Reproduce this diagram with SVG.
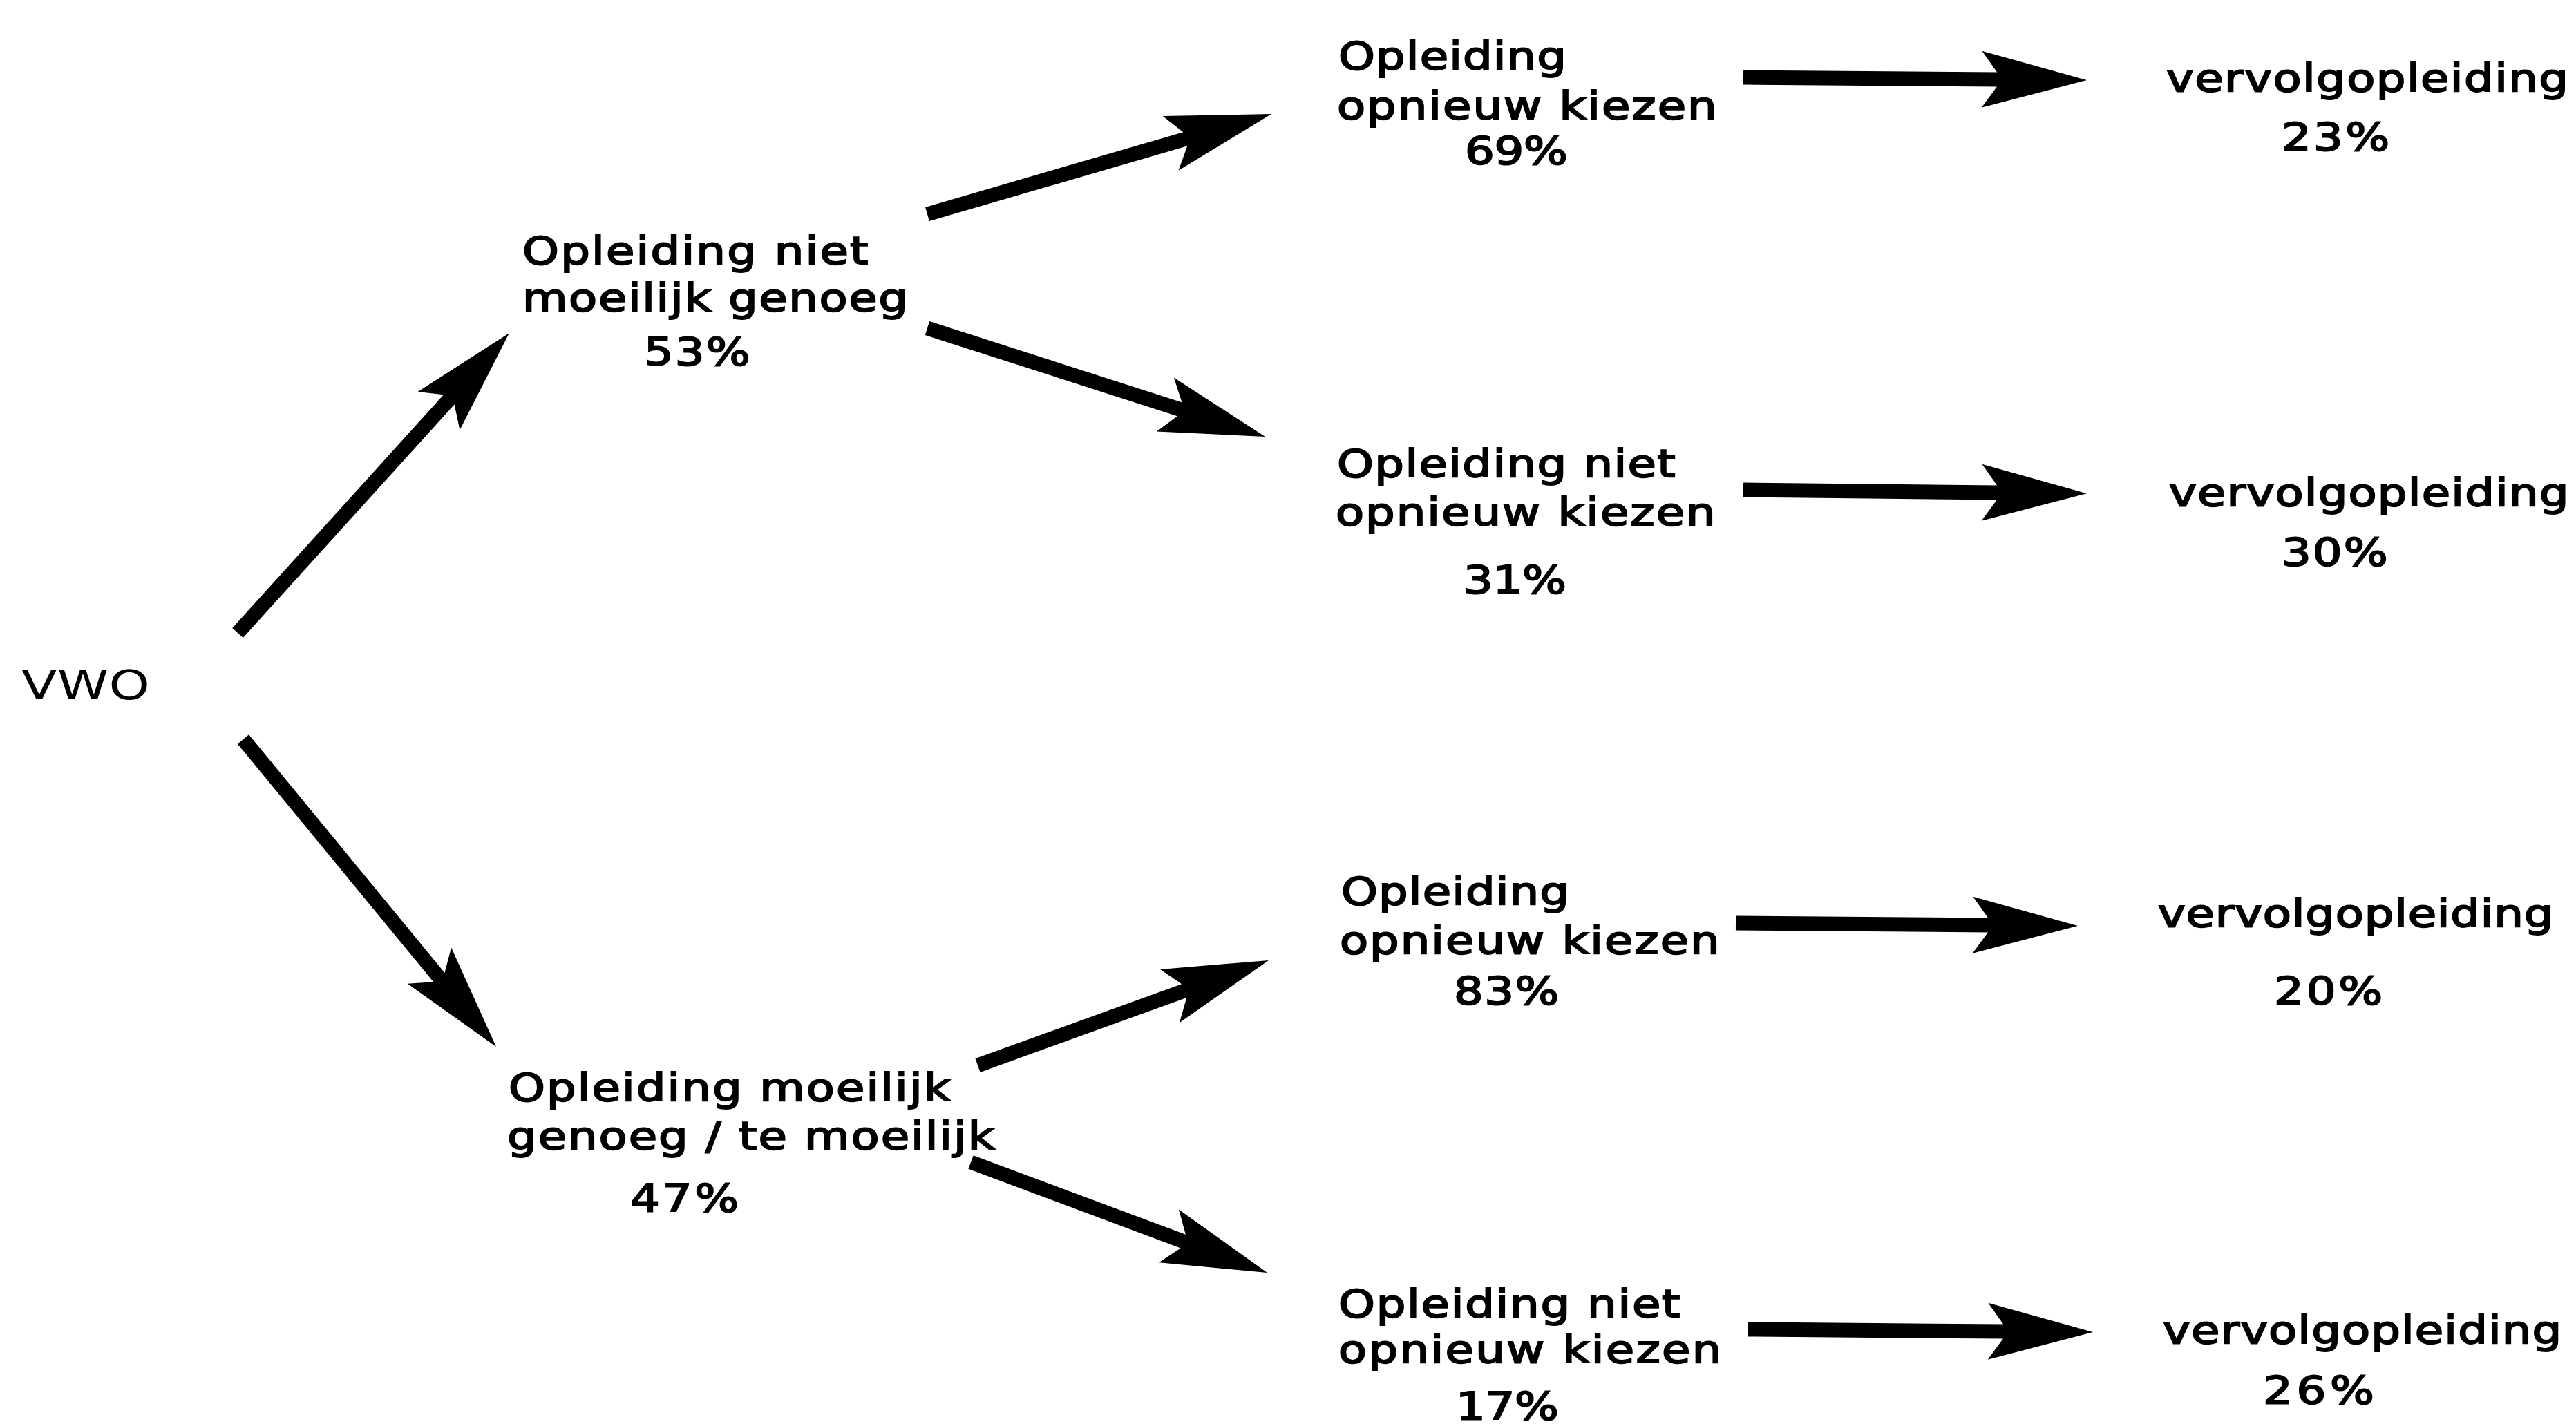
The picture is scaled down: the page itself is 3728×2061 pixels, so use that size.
<svg xmlns="http://www.w3.org/2000/svg" width="3728" height="2061" viewBox="0 0 3728 2061">
<style>
.t { font-family: "DejaVu Sans", "Liberation Sans", sans-serif; font-size: 56px; fill: #000; stroke: #000; stroke-width: 2; }
.v { font-family: "DejaVu Sans", "Liberation Sans", sans-serif; font-size: 58px; fill: #000; }
.c { stroke: #000; stroke-width: 21; fill: none; stroke-linecap: butt; marker-end: url(#ah); }
</style>
<defs>
<marker id="ah" markerUnits="userSpaceOnUse" viewBox="-30 -46 165 92" refX="0" refY="0" markerWidth="165" markerHeight="92" orient="auto" overflow="visible">
<path d="M127,0 L-25,-41 L-3,-10.5 L-3,10.5 L-25,41 Z" fill="#000"/>
</marker>
</defs>
<rect width="3728" height="2061" fill="#fff"/>
<g id="connectors">
<line class="c" x1="344" y1="916" x2="651.8" y2="576.1"/>
<line class="c" x1="352" y1="1070" x2="637.3" y2="1416.9"/>
<line class="c" x1="1342" y1="310" x2="1718.1" y2="200.5"/>
<line class="c" x1="1342" y1="475" x2="1710.1" y2="593.2"/>
<line class="c" x1="1415" y1="1542" x2="1716.5" y2="1433.1"/>
<line class="c" x1="1405" y1="1682" x2="1715" y2="1797.6"/>
<line class="c" x1="2523" y1="112" x2="2893" y2="115"/>
<line class="c" x1="2523" y1="709" x2="2893" y2="713"/>
<line class="c" x1="2512" y1="1336" x2="2880" y2="1339"/>
<line class="c" x1="2530" y1="1924" x2="2902" y2="1927"/>
</g>
<g id="node-vwo">
<text class="v" transform="translate(31,1012) scale(1.3,1)" x="0" y="0" textLength="143" lengthAdjust="spacing">VWO</text>
</g>
<g id="node-niet-moeilijk">
<text class="t" transform="translate(756,382) scale(1.2,1)" textLength="417" lengthAdjust="spacing">Opleiding niet</text>
<text class="t" transform="translate(756,450) scale(1.2,1)" textLength="465" lengthAdjust="spacing">moeilijk genoeg</text>
<text class="t" transform="translate(932,528) scale(1.2,1)" textLength="128" lengthAdjust="spacing">53%</text>
</g>
<g id="node-moeilijk">
<text class="t" transform="translate(736,1593) scale(1.2,1)" textLength="533" lengthAdjust="spacing">Opleiding moeilijk</text>
<text class="t" transform="translate(734,1663) scale(1.2,1)" textLength="588" lengthAdjust="spacing">genoeg / te moeilijk</text>
<text class="t" transform="translate(912,1753) scale(1.2,1)" textLength="131" lengthAdjust="spacing">47%</text>
</g>
<g id="node-opnieuw-1">
<text class="t" transform="translate(1937,100) scale(1.2,1)" textLength="275" lengthAdjust="spacing">Opleiding</text>
<text class="t" transform="translate(1935,172) scale(1.2,1)" textLength="458" lengthAdjust="spacing">opnieuw kiezen</text>
<text class="t" transform="translate(2120,237) scale(1.2,1)" textLength="124" lengthAdjust="spacing">69%</text>
</g>
<g id="node-niet-opnieuw-1">
<text class="t" transform="translate(1935,690) scale(1.2,1)" textLength="408" lengthAdjust="spacing">Opleiding niet</text>
<text class="t" transform="translate(1933,760) scale(1.2,1)" textLength="458" lengthAdjust="spacing">opnieuw kiezen</text>
<text class="t" transform="translate(2118,858) scale(1.2,1)" textLength="124" lengthAdjust="spacing">31%</text>
</g>
<g id="node-opnieuw-2">
<text class="t" transform="translate(1941,1309) scale(1.2,1)" textLength="275" lengthAdjust="spacing">Opleiding</text>
<text class="t" transform="translate(1939,1380) scale(1.2,1)" textLength="458" lengthAdjust="spacing">opnieuw kiezen</text>
<text class="t" transform="translate(2104,1453) scale(1.2,1)" textLength="127" lengthAdjust="spacing">83%</text>
</g>
<g id="node-niet-opnieuw-2">
<text class="t" transform="translate(1937,1906) scale(1.2,1)" textLength="412" lengthAdjust="spacing">Opleiding niet</text>
<text class="t" transform="translate(1937,1972) scale(1.2,1)" textLength="462" lengthAdjust="spacing">opnieuw kiezen</text>
<text class="t" transform="translate(2107,2054) scale(1.2,1)" textLength="124" lengthAdjust="spacing">17%</text>
</g>
<g id="node-vervolg-1">
<text class="t" transform="translate(3135,132) scale(1.2,1)" textLength="485" lengthAdjust="spacing">vervolgopleiding</text>
<text class="t" transform="translate(3302,217) scale(1.2,1)" textLength="130" lengthAdjust="spacing">23%</text>
</g>
<g id="node-vervolg-2">
<text class="t" transform="translate(3139,732) scale(1.2,1)" textLength="482" lengthAdjust="spacing">vervolgopleiding</text>
<text class="t" transform="translate(3302,818) scale(1.2,1)" textLength="128" lengthAdjust="spacing">30%</text>
</g>
<g id="node-vervolg-3">
<text class="t" transform="translate(3123,1341) scale(1.2,1)" textLength="477" lengthAdjust="spacing">vervolgopleiding</text>
<text class="t" transform="translate(3291,1453) scale(1.2,1)" textLength="131" lengthAdjust="spacing">20%</text>
</g>
<g id="node-vervolg-4">
<text class="t" transform="translate(3130,1944) scale(1.2,1)" textLength="481" lengthAdjust="spacing">vervolgopleiding</text>
<text class="t" transform="translate(3275,2031) scale(1.2,1)" textLength="134" lengthAdjust="spacing">26%</text>
</g>
</svg>
